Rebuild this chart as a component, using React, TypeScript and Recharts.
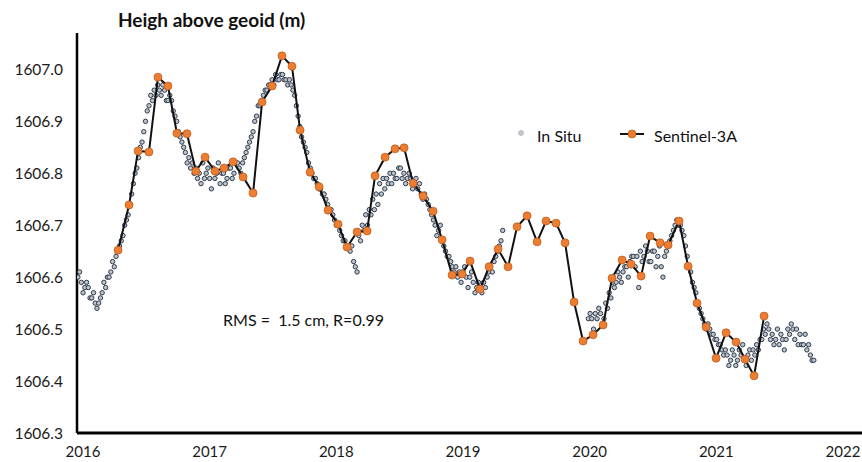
import React from "react";
import { ScatterChart, Scatter, XAxis, YAxis } from "recharts";

// In situ gauge, one reading every 5 days (two segments, gap in late 2019)
const inSituStep = 5 / 365.25;
const inSituStartA = 2015.96;
const inSituA = [
	1606.60, 1606.61, 1606.59, 1606.57, 1606.58, 1606.59, 1606.58, 1606.56, 1606.56, 1606.57,
	1606.55, 1606.54, 1606.55, 1606.56, 1606.57, 1606.59, 1606.58, 1606.60, 1606.60, 1606.61,
	1606.63, 1606.62, 1606.64, 1606.65, 1606.66, 1606.67, 1606.68, 1606.70, 1606.71, 1606.72,
	1606.74, 1606.76, 1606.78, 1606.80, 1606.81, 1606.83, 1606.85, 1606.86, 1606.88, 1606.90,
	1606.92, 1606.93, 1606.95, 1606.94, 1606.96, 1606.95, 1606.97, 1606.96, 1606.95, 1606.97,
	1606.96, 1606.94, 1606.94, 1606.95, 1606.94, 1606.92, 1606.91, 1606.90, 1606.88, 1606.87,
	1606.86, 1606.85, 1606.84, 1606.82, 1606.83, 1606.81, 1606.82, 1606.80, 1606.81, 1606.79,
	1606.80, 1606.78, 1606.82, 1606.79, 1606.80, 1606.81, 1606.79, 1606.77, 1606.81, 1606.79,
	1606.80, 1606.82, 1606.78, 1606.80, 1606.80, 1606.78, 1606.79, 1606.81, 1606.81, 1606.79,
	1606.80, 1606.82, 1606.82, 1606.81, 1606.80, 1606.82, 1606.83, 1606.84, 1606.85, 1606.86,
	1606.87, 1606.88, 1606.90, 1606.91, 1606.93, 1606.93, 1606.94, 1606.95, 1606.96, 1606.96,
	1606.97, 1606.97, 1606.98, 1606.97, 1606.99, 1606.98, 1606.98, 1606.99, 1606.99, 1606.98,
	1606.98, 1606.97, 1606.98, 1606.97, 1606.96, 1606.95, 1606.93, 1606.91, 1606.89, 1606.87,
	1606.86, 1606.85, 1606.84, 1606.82, 1606.81, 1606.80, 1606.79, 1606.79, 1606.78, 1606.77,
	1606.77, 1606.76, 1606.76, 1606.75, 1606.74, 1606.73, 1606.73, 1606.72, 1606.71, 1606.70,
	1606.70, 1606.69, 1606.68, 1606.67, 1606.67, 1606.66, 1606.66, 1606.65, 1606.66, 1606.63,
	1606.62, 1606.61, 1606.68, 1606.67, 1606.70, 1606.69, 1606.72, 1606.70, 1606.73, 1606.72,
	1606.75, 1606.73, 1606.76, 1606.74, 1606.78, 1606.76, 1606.79, 1606.77, 1606.79, 1606.78,
	1606.80, 1606.78, 1606.80, 1606.79, 1606.79, 1606.81, 1606.81, 1606.79, 1606.80, 1606.78,
	1606.79, 1606.80, 1606.79, 1606.77, 1606.78, 1606.79, 1606.77, 1606.78, 1606.76, 1606.75,
	1606.76, 1606.75, 1606.74, 1606.73, 1606.72, 1606.71, 1606.70, 1606.68, 1606.69, 1606.70,
	1606.67, 1606.66, 1606.65, 1606.64, 1606.64, 1606.63, 1606.62, 1606.61, 1606.62, 1606.60,
	1606.61, 1606.59, 1606.61, 1606.62, 1606.60, 1606.58, 1606.60, 1606.61, 1606.59, 1606.57,
	1606.58, 1606.59, 1606.58, 1606.57, 1606.59, 1606.58, 1606.60, 1606.61, 1606.62, 1606.61,
	1606.63, 1606.64, 1606.65, 1606.66, 1606.67, 1606.69,
];
const inSituStartB = 2019.99;
const inSituB = [
	1606.52, 1606.53, 1606.52, 1606.50, 1606.53, 1606.52, 1606.54, 1606.53, 1606.51, 1606.52,
	1606.55, 1606.54, 1606.57, 1606.56, 1606.59, 1606.58, 1606.59, 1606.61, 1606.60, 1606.59,
	1606.61, 1606.62, 1606.62, 1606.60, 1606.63, 1606.64, 1606.64, 1606.62, 1606.64, 1606.58,
	1606.65, 1606.63, 1606.64, 1606.66, 1606.65, 1606.63, 1606.63, 1606.65, 1606.65, 1606.62,
	1606.64, 1606.66, 1606.62, 1606.60, 1606.64, 1606.65, 1606.66, 1606.67, 1606.68, 1606.69,
	1606.70, 1606.71, 1606.70, 1606.70, 1606.69, 1606.68, 1606.66, 1606.64, 1606.62, 1606.61,
	1606.59, 1606.58, 1606.57, 1606.55, 1606.54, 1606.53, 1606.52, 1606.51, 1606.50, 1606.51,
	1606.50, 1606.49, 1606.49, 1606.48, 1606.48, 1606.47, 1606.47, 1606.46, 1606.45, 1606.46,
	1606.45, 1606.43, 1606.44, 1606.46, 1606.45, 1606.43, 1606.44, 1606.46, 1606.45, 1606.47,
	1606.44, 1606.43, 1606.45, 1606.46, 1606.44, 1606.46, 1606.45, 1606.47, 1606.46, 1606.48,
	1606.48, 1606.50, 1606.49, 1606.51, 1606.50, 1606.48, 1606.49, 1606.47, 1606.48, 1606.50,
	1606.47, 1606.49, 1606.48, 1606.46, 1606.48, 1606.50, 1606.49, 1606.51, 1606.50, 1606.48,
	1606.50, 1606.47, 1606.49, 1606.47, 1606.47, 1606.49, 1606.46, 1606.47, 1606.45, 1606.44,
	1606.44,
];

// Sentinel-3A passes (decimal year, height)
const s3Dates = [
	2016.277, 2016.364, 2016.435, 2016.521, 2016.592, 2016.671, 2016.742, 2016.821, 2016.892, 2016.964,
	2017.043, 2017.114, 2017.185, 2017.264, 2017.343, 2017.414, 2017.493, 2017.571, 2017.650, 2017.714,
	2017.793, 2017.864, 2017.935, 2018.014, 2018.085, 2018.164, 2018.243, 2018.306, 2018.385, 2018.464,
	2018.535, 2018.606, 2018.685, 2018.764, 2018.835, 2018.914, 2018.993, 2019.056, 2019.135, 2019.206,
	2019.277, 2019.356, 2019.427, 2019.506, 2019.585, 2019.656, 2019.735, 2019.806, 2019.877, 2019.948,
	2020.027, 2020.106, 2020.177, 2020.256, 2020.327, 2020.406, 2020.477, 2020.556, 2020.619, 2020.706,
	2020.777, 2020.848, 2020.919, 2020.998, 2021.077, 2021.156, 2021.227, 2021.298, 2021.377,
];
const s3Heights = [
	1606.652, 1606.739, 1606.843, 1606.841, 1606.985, 1606.968, 1606.877, 1606.876, 1606.804, 1606.831,
	1606.804, 1606.810, 1606.822, 1606.793, 1606.762, 1606.937, 1606.968, 1607.026, 1607.006, 1606.883,
	1606.802, 1606.774, 1606.729, 1606.702, 1606.658, 1606.687, 1606.689, 1606.795, 1606.831, 1606.847,
	1606.849, 1606.781, 1606.756, 1606.727, 1606.672, 1606.604, 1606.606, 1606.631, 1606.577, 1606.620,
	1606.654, 1606.620, 1606.697, 1606.718, 1606.668, 1606.708, 1606.704, 1606.666, 1606.552, 1606.477,
	1606.489, 1606.508, 1606.598, 1606.633, 1606.625, 1606.602, 1606.679, 1606.666, 1606.662, 1606.708,
	1606.621, 1606.550, 1606.504, 1606.444, 1606.493, 1606.475, 1606.442, 1606.410, 1606.525,
];

const yearTicks = [2016, 2017, 2018, 2019, 2020, 2021, 2022];
const heightTicks = [1606.3, 1606.4, 1606.5, 1606.6, 1606.7, 1606.8, 1606.9, 1607.0];

const inSitu = [
	...inSituA.map((v, i) => ({ t: inSituStartA + i * inSituStep, v })),
	...inSituB.map((v, i) => ({ t: inSituStartB + i * inSituStep, v })),
];
const sentinel = s3Dates.map((t, i) => ({ t, v: s3Heights[i] }));

const FONT = "Lato, 'Open Sans', sans-serif";
const ORANGE = "#ED7D31";

const InSituDot = (props: any) => (
	<circle cx={props.cx} cy={props.cy} r={2.2} fill="#bcc3cd" stroke="#2f3b4b" strokeWidth={1} />
);

const S3Dot = (props: any) => (
	<circle cx={props.cx} cy={props.cy} r={4} fill={ORANGE} stroke="#b8561a" strokeWidth={0.7} />
);

const abs = (left: number, top: number): React.CSSProperties => ({
	position: "absolute",
	left,
	top,
	lineHeight: "20px",
	whiteSpace: "pre",
	color: "#111",
	fontFamily: FONT,
	fontSize: 16,
});

export default function App() {
	return (
		<div style={{ position: "absolute", left: 0, top: 0, width: 862, height: 462, background: "#fff" }}>
			<ScatterChart width={862} height={462} margin={{ top: 33, right: 0, bottom: 0, left: 0 }}>
				<XAxis
					type="number"
					dataKey="t"
					domain={[2015.953, 2022.15]}
					ticks={yearTicks}
					interval={0}
					allowDataOverflow
					height={29}
					tickLine={false}
					tickSize={0}
					tickMargin={13}
					axisLine={{ stroke: "#000", strokeWidth: 3 }}
					tick={{ fontSize: 15, fill: "#1a1a1a", fontFamily: FONT }}
				/>
				<YAxis
					type="number"
					dataKey="v"
					domain={[1606.3, 1607.07]}
					ticks={heightTicks}
					interval={0}
					allowDataOverflow
					width={77}
					tickLine={false}
					tickSize={0}
					tickMargin={14}
					tickFormatter={(v: number) => v.toFixed(1)}
					axisLine={{ stroke: "#000", strokeWidth: 2.5 }}
					tick={{ fontSize: 15.5, fill: "#1a1a1a", fontFamily: FONT }}
				/>
				<Scatter name="In Situ" data={inSitu} shape={InSituDot} isAnimationActive={false} />
				<Scatter
					name="Sentinel-3A"
					data={sentinel}
					line={{ stroke: "#111", strokeWidth: 2 }}
					shape={S3Dot}
					isAnimationActive={false}
				/>
			</ScatterChart>

			<div style={{ ...abs(118, 9), fontSize: 19, fontWeight: 700, lineHeight: "22px" }}>Heigh above geoid (m)</div>

			{/* legend */}
			<svg style={{ position: "absolute", left: 510, top: 124 }} width={140} height={20}>
				<circle cx={11} cy={9} r={2.5} fill="#c4c8ce" stroke="#a0a6ae" strokeWidth={0.6} />
				<line x1={110} y1={10} x2={134} y2={10} stroke="#111" strokeWidth={2} />
				<circle cx={122} cy={10} r={4} fill={ORANGE} stroke="#b8561a" strokeWidth={0.7} />
			</svg>
			<div style={abs(537, 126)}>In Situ</div>
			<div style={abs(654, 126)}>Sentinel-3A</div>

			<div style={abs(223, 310)}>RMS =  1.5 cm, R=0.99</div>
		</div>
	);
}
